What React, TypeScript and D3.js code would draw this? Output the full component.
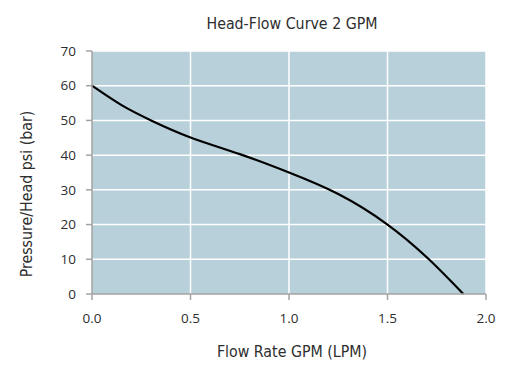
import React from "react";
import * as d3 from "d3";

const flowValues = [0, 0.15, 0.3, 0.5, 0.75, 1.0, 1.25, 1.5, 1.71, 1.885];
const pressureValues = [60, 54.4, 50, 45.1, 40.3, 35, 28.8, 20, 10, 0];
const xTicks = [0, 0.5, 1.0, 1.5, 2.0];
const yTicks = [0, 10, 20, 30, 40, 50, 60, 70];

const W = 512;
const H = 366;
const M = { left: 92, right: 486, top: 51, bottom: 294 };

export default function App() {
  const x = d3.scaleLinear().domain([0, 2]).range([M.left, M.right]);
  const y = d3.scaleLinear().domain([0, 70]).range([M.bottom, M.top]);
  const pts: [number, number][] = flowValues.map((f, i) => [f, pressureValues[i]]);
  const line = d3
    .line<[number, number]>()
    .x((d) => x(d[0]))
    .y((d) => y(d[1]))
    .curve(d3.curveNatural);
  const axisColor = "#a3a3a3";
  const textColor = "#2e2e2e";
  const condensed = "'DejaVu Sans Condensed', 'DejaVu Sans', sans-serif";
  const tickFont = "'Open Sans', sans-serif";
  return (
    <svg width={W} height={H} style={{ position: "absolute", left: 0, top: 0 }}>
      <rect x={0} y={0} width={W} height={H} fill="#fff" />
      <rect x={M.left} y={M.top} width={M.right - M.left} height={M.bottom - M.top} fill="#b8d0da" />
      {yTicks.slice(1).map((t) => (
        <line key={"gy" + t} x1={M.left} x2={M.right} y1={y(t)} y2={y(t)} stroke="#fff" strokeWidth={1.5} />
      ))}
      {xTicks.slice(1).map((t) => (
        <line key={"gx" + t} x1={x(t)} x2={x(t)} y1={M.top} y2={M.bottom} stroke="#fff" strokeWidth={1.5} />
      ))}
      <path d={line(pts) || ""} fill="none" stroke="#000" strokeWidth={2.2} />
      <line x1={M.left} x2={M.left} y1={M.top} y2={M.bottom} stroke={axisColor} strokeWidth={1.5} />
      <line x1={M.left} x2={M.right} y1={M.bottom} y2={M.bottom} stroke={axisColor} strokeWidth={1.5} />
      {yTicks.map((t) => (
        <g key={"ty" + t}>
          <line x1={M.left - 6} x2={M.left} y1={y(t)} y2={y(t)} stroke={axisColor} strokeWidth={1.5} />
          <text x={76} y={y(t)} dy="0.35em" textAnchor="end" fontFamily={tickFont} fontSize={13.5} fill={textColor}>
            {t}
          </text>
        </g>
      ))}
      {xTicks.map((t) => (
        <g key={"tx" + t}>
          <line x1={x(t)} x2={x(t)} y1={M.bottom} y2={M.bottom + 6} stroke={axisColor} strokeWidth={1.5} />
          <text x={x(t)} y={323} textAnchor="middle" fontFamily={tickFont} fontSize={13.5} fill={textColor}>
            {t.toFixed(1)}
          </text>
        </g>
      ))}
      <text x={292} y={29} textAnchor="middle" fontFamily={condensed} fontStretch="condensed" fontSize={15.8} fill={textColor}>
        Head-Flow Curve 2 GPM
      </text>
      <text x={292} y={357} textAnchor="middle" fontFamily={condensed} fontStretch="condensed" fontSize={15.8} fill={textColor}>
        Flow Rate GPM (LPM)
      </text>
      <text
        transform={`translate(32,194) rotate(-90)`}
        textAnchor="middle"
        fontFamily={condensed}
        fontStretch="condensed"
        fontSize={15.8}
        fill={textColor}
      >
        Pressure/Head psi (bar)
      </text>
    </svg>
  );
}
